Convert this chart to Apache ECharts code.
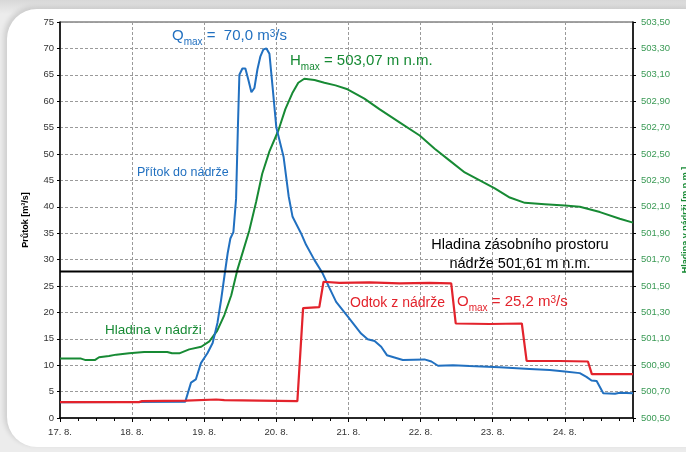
<!DOCTYPE html>
<html><head><meta charset="utf-8">
<script src="https://cdn.jsdelivr.net/npm/echarts@6/dist/echarts.min.js"></script>
<style>
html,body{margin:0;padding:0;width:686px;height:452px;overflow:hidden;background:linear-gradient(#d8d8d8,#ececec 14px,#ececec);}
#panel{position:absolute;left:7px;top:9px;width:720px;height:438px;background:#fff;border-radius:30px 40px 0 30px;box-shadow:-3px -2px 5px rgba(0,0,0,0.13);}
#chart{position:absolute;left:0;top:0;width:686px;height:452px;}
</style></head><body>
<div id="panel"></div><div id="chart"></div>
<script>
// time in hours from 17. 8. 0:00
const dayLabels = ['17. 8.', '18. 8.', '19. 8.', '20. 8.', '21. 8.', '22. 8.', '23. 8.', '24. 8.'];

const inflowHours = [0, 41.7, 43.6, 45.2, 46.9, 49.1, 50.8, 52.4, 53.6, 54.7, 55.8, 56.7, 57.7, 58.6, 59.2, 59.7, 60.7, 61.7, 62.7, 63.7, 64.7, 65.7, 66.7, 67.7, 68.7, 69.7, 70.7, 72.0, 74.4, 76.1, 77.4, 80.2, 81.9, 84.7, 87.4, 89.7, 91.9, 95.8, 100.2, 102.4, 104.7, 106.9, 108.8, 114.1, 121.3, 123.6, 125.8, 130.8, 136.3, 146.3, 156.3, 163.0, 168.0, 173.0, 175.2, 176.9, 178.6, 180.8, 184.7, 186.3, 190.7];
const inflowValues = [3.0, 3.1, 6.7, 7.3, 10.4, 12.3, 14.2, 18.0, 22.3, 26.8, 31.2, 34.0, 35.2, 41.5, 55.0, 65.0, 66.2, 66.2, 64.0, 61.7, 62.5, 66.0, 68.5, 69.8, 70.0, 69.0, 63.0, 55.0, 49.5, 42.0, 38.1, 35.0, 32.8, 29.9, 27.4, 24.6, 22.0, 19.2, 16.0, 14.9, 14.6, 13.5, 11.9, 11.0, 11.1, 10.7, 9.9, 10.0, 9.85, 9.6, 9.3, 9.1, 8.8, 8.5, 7.8, 7.1, 7.0, 4.7, 4.6, 4.8, 4.7];

const outflowHours = [0, 26.3, 27.3, 42.0, 52.0, 54.7, 66.3, 79.0, 80.9, 86.3, 87.7, 93.0, 103.0, 113.0, 123.0, 130.2, 131.7, 143.0, 153.7, 155.3, 166.3, 175.7, 177.0, 190.7];
const outflowValues = [3.0, 3.0, 3.2, 3.3, 3.5, 3.4, 3.3, 3.2, 20.8, 21.0, 25.8, 25.6, 25.7, 25.5, 25.6, 25.5, 17.9, 17.8, 17.9, 10.8, 10.8, 10.7, 8.3, 8.3];

const levelHours = [0, 7.0, 8.3, 11.7, 13.0, 16.3, 18.7, 23.0, 28.0, 35.7, 37.3, 39.7, 43.0, 47.0, 49.7, 52.3, 54.7, 57.0, 59.0, 61.0, 63.0, 65.3, 67.3, 69.7, 72.7, 75.0, 77.3, 79.3, 81.3, 84.7, 88.0, 91.7, 95.7, 101.3, 106.3, 113.0, 119.7, 124.7, 129.7, 134.7, 139.7, 144.7, 149.7, 154.7, 161.3, 168.0, 173.0, 179.7, 186.3, 190.7];
const levelValues = [500.95, 500.95, 500.94, 500.94, 500.96, 500.97, 500.98, 500.99, 501.00, 501.00, 500.99, 500.99, 501.02, 501.04, 501.08, 501.16, 501.28, 501.43, 501.62, 501.77, 501.92, 502.14, 502.35, 502.52, 502.68, 502.84, 502.96, 503.04, 503.07, 503.06, 503.04, 503.02, 502.99, 502.92, 502.84, 502.74, 502.64, 502.54, 502.45, 502.36, 502.30, 502.24, 502.17, 502.13, 502.12, 502.11, 502.10, 502.06, 502.01, 501.98];

const storageLevel = 501.61;

const blue = '#2170c0', green = '#178a34', red = '#e3232c', greenLbl = '#3a9a55';
const narrow = "'Liberation Sans Narrow','Liberation Sans',Arial,sans-serif";
const sans = "'Liberation Sans',Arial,sans-serif";

const zip = (a, b) => a.map((v, i) => [v, b[i]]);
const tMax = inflowHours[inflowHours.length - 1];

function maxLabel(letter, rest, sup, tail, color, size) {
  const b = {fontSize: size, fontFamily: sans, fill: color, verticalAlign: 'bottom', padding: [0, 0, 4, 0]};
  return {
    text: '{b|' + letter + '}{s|max}{b|' + rest + '}' + (sup ? '{p|' + sup + '}{b|' + tail + '}' : ''),
    rich: {
      b: b,
      s: {fontSize: Math.round(size * 0.66), fontFamily: sans, fill: color, verticalAlign: 'bottom', padding: [0, 0, 0, 0]},
      p: {fontSize: Math.round(size * 0.66), fontFamily: sans, fill: color, verticalAlign: 'top', padding: [1, 0, 0, 0]}
    }
  };
}

const chart = echarts.init(document.getElementById('chart'), null, {renderer: 'canvas'});
chart.setOption({
  backgroundColor: 'transparent',
  animation: false,
  grid: {left: 60, right: 53, top: 22, bottom: 34, show: true, borderColor: '#444', borderWidth: 1,
    containLabel: false, outerBoundsMode: 'none'},
  xAxis: {
    type: 'value', min: 0, max: tMax, interval: 24,
    axisLine: {show: true, lineStyle: {color: '#000', width: 1.5}},
    axisTick: {show: true, length: 4, lineStyle: {color: '#000'}},
    minorTick: {show: true, splitNumber: 4, length: 3, lineStyle: {color: '#000'}},
    splitLine: {show: true, lineStyle: {color: '#9a9a9a', type: [3, 2], width: 1}},
    axisLabel: {
      margin: 9, fontSize: 9.5, fontFamily: narrow, color: '#333',
      formatter: v => (Math.abs(v % 24) < 1e-6 ? dayLabels[Math.round(v / 24)] || '' : '')
    }
  },
  yAxis: [{
    type: 'value', min: 0, max: 75, interval: 5,
    name: 'Průtok [m³/s]', nameLocation: 'middle', nameGap: 30, nameRotate: 90,
    nameTextStyle: {fontSize: 9, fontWeight: 'bold', fontFamily: sans, color: '#000'},
    axisLine: {show: true, lineStyle: {color: '#000', width: 1.5}},
    axisTick: {show: true, length: 3, lineStyle: {color: '#000'}},
    splitLine: {show: true, lineStyle: {color: '#9a9a9a', type: [3, 2], width: 1}},
    axisLabel: {margin: 6, fontSize: 9.5, fontFamily: narrow, color: '#333'}
  }, {
    type: 'value', min: 500.5, max: 503.5, interval: 0.2, position: 'right',
    name: 'Hladina v nádrži [m n.m.]', nameLocation: 'middle', nameGap: 41, nameRotate: 90,
    nameTextStyle: {fontSize: 9, fontWeight: 'bold', fontFamily: sans, color: green},
    axisLine: {show: true, lineStyle: {color: '#000', width: 1.5}},
    axisTick: {show: true, length: 3, lineStyle: {color: '#000'}},
    splitLine: {show: false},
    axisLabel: {margin: 8, fontSize: 9.5, fontFamily: narrow, color: greenLbl,
      formatter: v => v.toFixed(2).replace('.', ',')}
  }],
  series: [
    {type: 'line', name: 'Hladina v nádrži', yAxisIndex: 1, data: zip(levelHours, levelValues),
      showSymbol: false, lineStyle: {color: green, width: 2}, itemStyle: {color: green}, z: 2},
    {type: 'line', name: 'Přítok do nádrže', yAxisIndex: 0, data: zip(inflowHours, inflowValues),
      showSymbol: false, lineStyle: {color: blue, width: 2}, itemStyle: {color: blue}, z: 3},
    {type: 'line', name: 'Odtok z nádrže', yAxisIndex: 0, data: zip(outflowHours, outflowValues),
      showSymbol: false, lineStyle: {color: red, width: 2.2}, itemStyle: {color: red}, z: 4},
    {type: 'line', name: 'Zásobní prostor', yAxisIndex: 1,
      data: [[0, storageLevel], [tMax, storageLevel]],
      showSymbol: false, lineStyle: {color: '#000', width: 2.2}, itemStyle: {color: '#000'}, z: 5}
  ],
  graphic: [
    {type: 'text', x: 172, y: 38, z: 10, style: Object.assign(maxLabel('Q', ' =  70,0 m', '3', '/s', blue, 15), {verticalAlign: 'middle'})},
    {type: 'text', x: 290, y: 63, z: 10, style: Object.assign(maxLabel('H', ' = 503,07 m n.m.', '', '', green, 15), {verticalAlign: 'middle'})},
    {type: 'text', x: 457, y: 304, z: 10, style: Object.assign(maxLabel('O', ' = 25,2 m', '3', '/s', red, 15), {verticalAlign: 'middle'})},
    {type: 'text', x: 137, y: 173, z: 10, style: {text: 'Přítok do nádrže', fill: blue, fontSize: 12.5, fontFamily: sans, verticalAlign: 'middle'}},
    {type: 'text', x: 105, y: 330, z: 10, style: {text: 'Hladina v nádrži', fill: green, fontSize: 13.5, fontFamily: sans, verticalAlign: 'middle'}},
    {type: 'text', x: 350, y: 303, z: 10, style: {text: 'Odtok z nádrže', fill: red, fontSize: 14, fontFamily: narrow, verticalAlign: 'middle'}},
    {type: 'text', x: 520, y: 254, z: 10, style: {text: 'Hladina zásobního prostoru\nnádrže 501,61 m n.m.', fill: '#000', fontSize: 14.5, lineHeight: 19, fontFamily: sans, align: 'center', verticalAlign: 'middle'}}
  ]
});
</script>
</body></html>
